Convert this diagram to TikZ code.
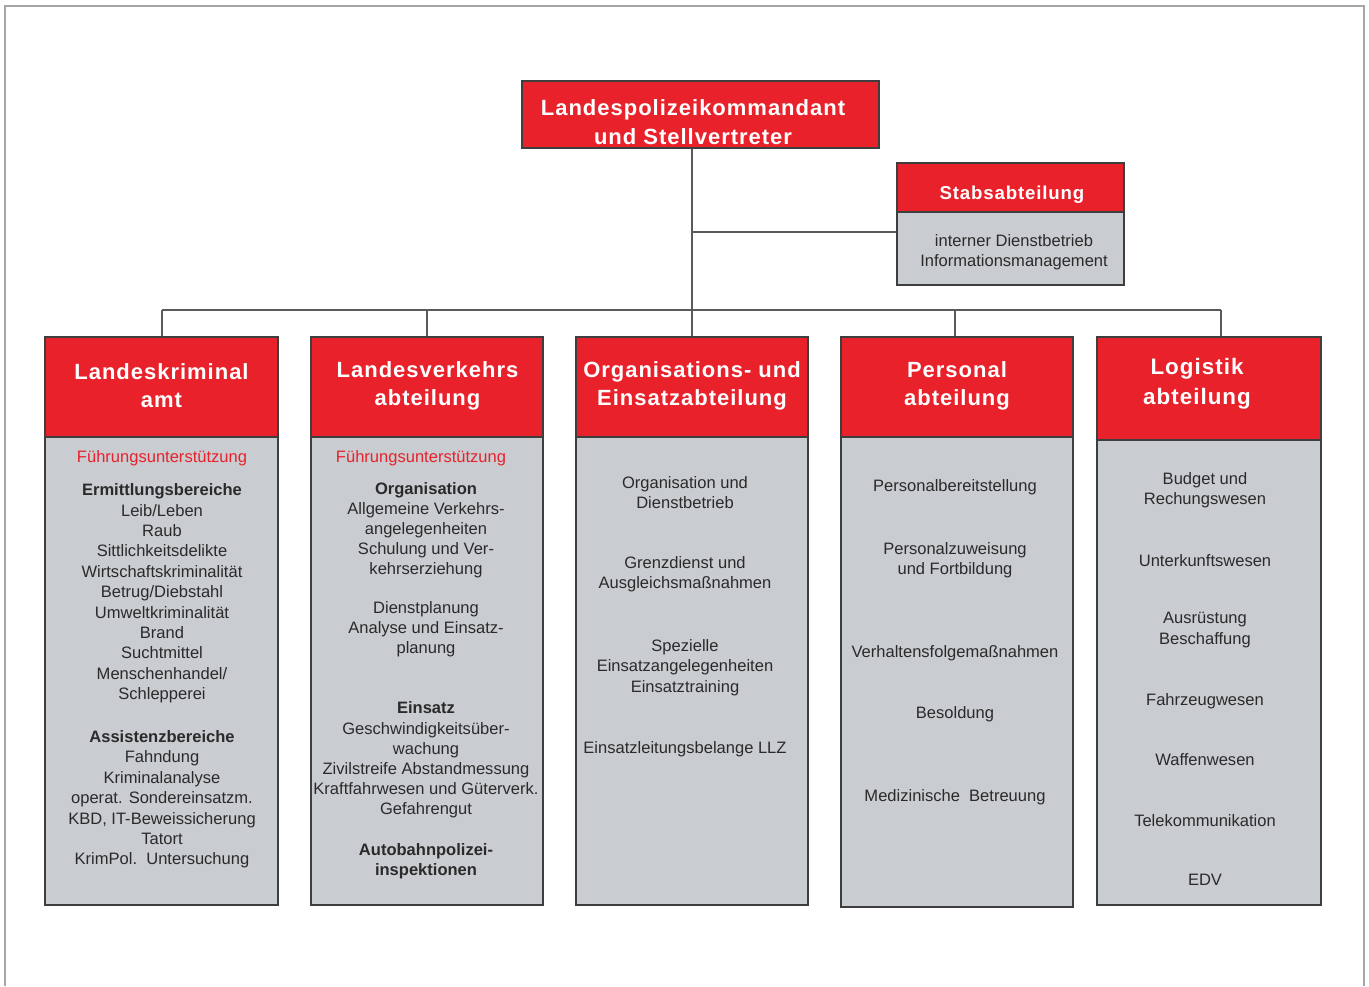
\documentclass[tikz,border=0pt]{standalone}
\usepackage{fontspec}
\setmainfont{Liberation Sans}
\newfontfamily\hdrfam[LetterSpace=4.5]{Liberation Sans}
\usetikzlibrary{fit}
\definecolor{polred}{HTML}{E8212B}
\definecolor{bodygray}{HTML}{C9CCD0}
\definecolor{edgecol}{HTML}{3E3E3E}
\definecolor{txtcol}{HTML}{2A2A2A}
\definecolor{conncol}{HTML}{5A5A5A}
\begin{document}
\begin{tikzpicture}[x=0.75pt,y=-0.75pt,
  hdrbox/.style={draw=edgecol, fill=polred, line width=1.1pt, inner sep=0pt},
  hdrtxt/.style={align=center, text=white, inner sep=0pt, yshift=-0.6pt, font=\hdrfam\bfseries\fontsize{16.5}{21}\selectfont},
  bodybox/.style={draw=edgecol, fill=bodygray, line width=1.1pt, inner sep=0pt},
  body/.style={align=center, text=txtcol, inner sep=0pt, yshift=-1.5pt, font=\fontsize{12.4}{15.3}\selectfont},
  bodyb/.style={body, font=\bfseries\fontsize{12.4}{15.3}\selectfont},
  redtxt/.style={body, text=polred},
  link/.style={draw=conncol, line width=1.4pt},
  framestyle/.style={draw=gray!70, line width=1pt}]
\useasboundingbox (0,0) rectangle (1369,986);
\fill[white] (0,0) rectangle (1369,986);
\draw[framestyle] (5,986) -- (5,6) -- (1364,6) -- (1364,986);

% top box
\node[hdrbox, fit={(522,81)(879,148)}] (top) {};
\node[hdrtxt, font=\hdrfam\bfseries\fontsize{16.5}{21.75}\selectfont] (toptxt) at (693,121.5) {Landespolizeikommandant\\und Stellvertreter};

% Stabsabteilung
\node[bodybox, fit={(897,212)(1124,285)}] (sb) {};
\node[hdrbox, fit={(897,163)(1124,212)}] (sh) {};
\node[hdrtxt, yshift=-1.5pt, font=\hdrfam\bfseries\fontsize{14}{18}\selectfont] (shtxt) at (1012,192) {Stabsabteilung};
\node[body, font=\fontsize{12.4}{15}\selectfont] (sbtxt) at (1014,250) {interner Dienstbetrieb\\Informationsmanagement};

% column boxes
\node[bodybox, fit={(45,437)(278,905)}] (b1) {};
\node[bodybox, fit={(311,437)(543,905)}] (b2) {};
\node[bodybox, fit={(576,437)(808,905)}] (b3) {};
\node[bodybox, fit={(841,437)(1073,907)}] (b4) {};
\node[bodybox, fit={(1097,440)(1321,905)}] (b5) {};
\node[hdrbox, fit={(45,337)(278,437)}] (h1) {};
\node[hdrbox, fit={(311,337)(543,437)}] (h2) {};
\node[hdrbox, fit={(576,337)(808,437)}] (h3) {};
\node[hdrbox, fit={(841,337)(1073,437)}] (h4) {};
\node[hdrbox, fit={(1097,337)(1321,440)}] (h5) {};

\node[hdrtxt] (h1t) at (161.5,385) {Landeskriminal\\amt};
\node[hdrtxt] (h2t) at (427.5,385) {Landesverkehrs\\abteilung};
\node[hdrtxt] (h3t) at (692,385) {Organisations- und\\Einsatzabteilung};
\node[hdrtxt] (h4t) at (957,385) {Personal\\abteilung};
\node[hdrtxt, font=\hdrfam\bfseries\fontsize{16.8}{22.5}\selectfont] (h5t) at (1197,383) {Logistik\\abteilung};

% connectors
\coordinate (bus1) at (162,310);
\coordinate (bus2) at (427,310);
\coordinate (bus3) at (692,310);
\coordinate (bus4) at (955,310);
\coordinate (bus5) at (1221,310);
\coordinate (jn) at (692,232);
\draw[link] (top.south -| bus3) -- (bus3 |- h3.north);
\draw[link] (jn) -- (jn -| sb.west);
\draw[link] (bus1) -- (bus5);
\foreach \i in {1,2,4,5} {\draw[link] (bus\i) -- (bus\i |- h\i.north);}

% column 1
\node[redtxt] (c1r) at (162,456) {Führungsunterstützung};
\node[body] (c1a) at (162,591.5) {\textbf{Ermittlungsbereiche}\\Leib/Leben\\Raub\\Sittlichkeitsdelikte\\Wirtschaftskriminalität\\Betrug/Diebstahl\\Umweltkriminalität\\Brand\\Suchtmittel\\Menschenhandel/\\Schlepperei};
\node[body] (c1b) at (162,797.5) {\textbf{Assistenzbereiche}\\Fahndung\\Kriminalanalyse\\operat. Sondereinsatzm.\\KBD, IT-Beweissicherung\\Tatort\\KrimPol.\ \ Untersuchung};

% column 2
\node[redtxt] (c2r) at (421,456) {Führungsunterstützung};
\node[body, font=\fontsize{12.4}{15.1}\selectfont] (c2a) at (426,528) {\textbf{Organisation}\\Allgemeine Verkehrs-\\angelegenheiten\\Schulung und Ver-\\kehrserziehung};
\node[body, font=\fontsize{12.4}{15.1}\selectfont] (c2b) at (426,627) {Dienstplanung\\Analyse und Einsatz-\\planung};
\node[body, font=\fontsize{12.4}{15.1}\selectfont] (c2c) at (426,758) {\textbf{Einsatz}\\Geschwindigkeitsüber-\\wachung\\Zivilstreife Abstandmessung\\Kraftfahrwesen und Güterverk.\\Gefahrengut};
\node[bodyb] (c2d) at (426,859.5) {Autobahnpolizei-\\inspektionen};

% column 3
\node[body] (c3a) at (685,490.5) {Organisation und\\Dienstbetrieb};
\node[body] (c3b) at (685,572.5) {Grenzdienst und\\Ausgleichsmaßnahmen};
\node[body] (c3c) at (685,665.5) {Spezielle\\Einsatzangelegenheiten\\Einsatztraining};
\node[body] (c3d) at (685,747) {Einsatzleitungsbelange LLZ};

% column 4
\node[body] (c4a) at (955,485) {Personalbereitstellung};
\node[body] (c4b) at (955,558) {Personalzuweisung\\und Fortbildung};
\node[body] (c4c) at (955,651) {Verhaltensfolgemaßnahmen};
\node[body] (c4d) at (955,712) {Besoldung};
\node[body] (c4e) at (955,795) {Medizinische\ \ Betreuung};

% column 5
\node[body] (c5a) at (1205,488) {Budget und\\Rechungswesen};
\node[body] (c5b) at (1205,559) {Unterkunftswesen};
\node[body] (c5c) at (1205,628) {Ausrüstung\\Beschaffung};
\node[body] (c5d) at (1205,699) {Fahrzeugwesen};
\node[body] (c5e) at (1205,758) {Waffenwesen};
\node[body] (c5f) at (1205,819) {Telekommunikation};
\node[body] (c5g) at (1205,878) {EDV};
\end{tikzpicture}
\end{document}
